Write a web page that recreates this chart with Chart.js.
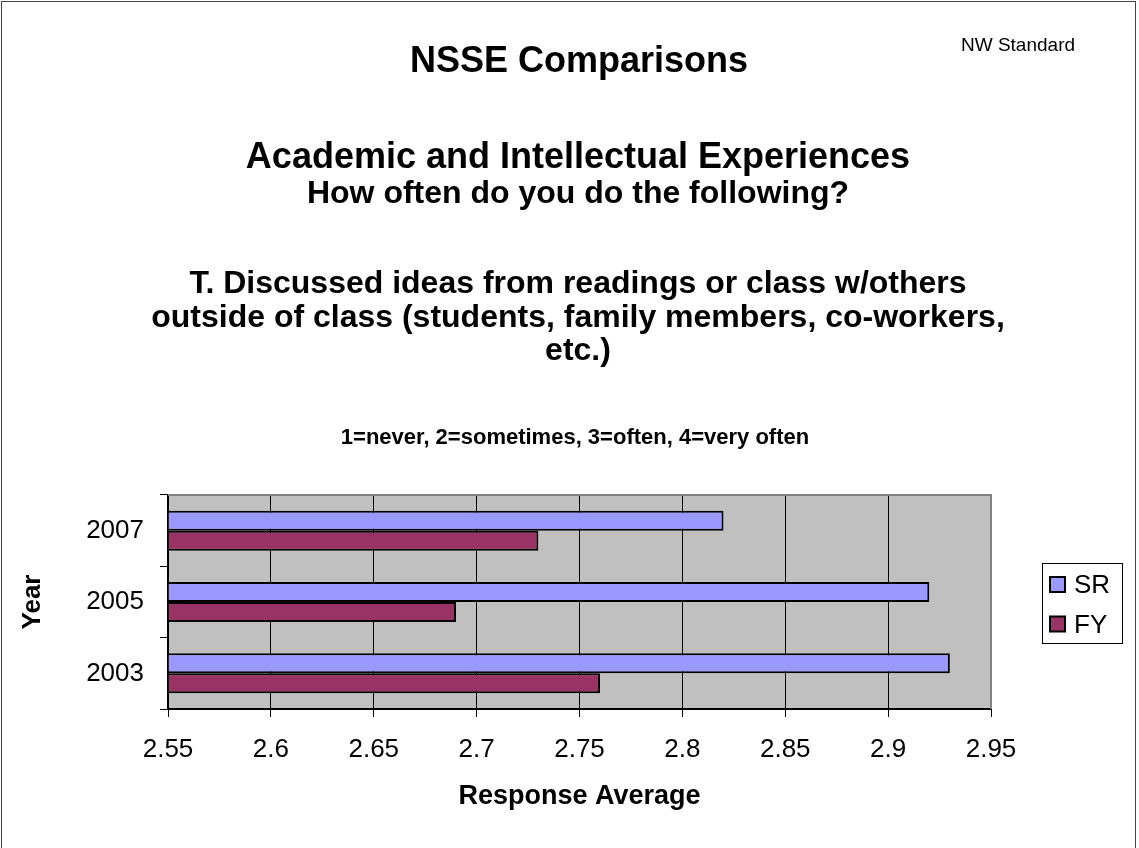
<!DOCTYPE html>
<html>
<head>
<meta charset="utf-8">
<script src="https://cdn.jsdelivr.net/npm/chart.js@4/dist/chart.umd.min.js"></script>
<style>
  html, body { margin: 0; padding: 0; background: #fff; }
  #wrap { position: relative; width: 1139px; height: 848px; overflow: hidden; font-family: "Liberation Sans", Arial, sans-serif; color: #000; }
  #frame { position: absolute; left: 1px; top: 1px; width: 1135px; height: 860px; border: 1px solid #444; box-sizing: border-box; }
  canvas { position: absolute; left: 0; top: 0; }
  .t { position: absolute; white-space: nowrap; font-weight: bold; text-align: center; transform: translateX(-50%); line-height: 1; }
</style>
</head>
<body>
<div id="wrap">
  <div id="frame"></div>
  <canvas id="c" width="1139" height="848"></canvas>
  <div class="t" style="left:579px; top:42px; font-size:36px;">NSSE Comparisons</div>
  <div class="t" style="left:1018px; top:35px; font-size:19px; font-weight:normal;">NW Standard</div>
  <div class="t" style="left:578px; top:138px; font-size:36px;">Academic and Intellectual Experiences</div>
  <div class="t" style="left:578px; top:176px; font-size:32px;">How often do you do the following?</div>
  <div class="t" style="left:578px; top:266px; font-size:32px;">T. Discussed ideas from readings or class w/others</div>
  <div class="t" style="left:578px; top:300px; font-size:32px;">outside of class (students, family members, co-workers,</div>
  <div class="t" style="left:578px; top:333px; font-size:32px;">etc.)</div>
  <div class="t" style="left:575px; top:426px; font-size:22px;">1=never, 2=sometimes, 3=often, 4=very often</div>
</div>
<script>
const categories = ['2007', '2005', '2003'];
const seriesSR = [2.82, 2.92, 2.93];
const seriesFY = [2.73, 2.69, 2.76];
const seriesNames = ['SR', 'FY'];
const xTicksMin = 2.55;
const xTicksMax = 2.95;
const xTickStep = 0.05;

const FONT = '"Liberation Sans", Arial, sans-serif';
const colors = ['#9999FF', '#993366'];

const plotBg = {
  id: 'plotBg',
  beforeDraw(chart) {
    const {ctx, chartArea: a} = chart;
    ctx.save();
    ctx.fillStyle = '#C0C0C0';
    ctx.fillRect(a.left, a.top, a.right - a.left, a.bottom - a.top);
    ctx.restore();
  },
  afterDraw(chart) {
    const {ctx, chartArea: a} = chart;
    ctx.save();
    ctx.strokeStyle = '#808080';
    ctx.lineWidth = 2;
    ctx.beginPath();
    ctx.moveTo(a.left, a.top);
    ctx.lineTo(a.right, a.top);
    ctx.lineTo(a.right, a.bottom);
    ctx.stroke();
    const lx = 1042, ly = 563, lw = 80, lh = 80;
    ctx.fillStyle = '#fff';
    ctx.fillRect(lx, ly, lw, lh);
    ctx.strokeStyle = '#000';
    ctx.lineWidth = 1;
    ctx.strokeRect(lx + 0.5, ly + 0.5, lw, lh);
    ctx.font = '26px ' + FONT;
    ctx.textBaseline = 'middle';
    ctx.textAlign = 'left';
    chart.data.datasets.forEach((ds, i) => {
      const cy = ly + 22 + i * 39.5;
      ctx.fillStyle = ds.backgroundColor;
      ctx.fillRect(lx + 8, cy - 8, 15, 15);
      ctx.strokeStyle = '#000';
      ctx.lineWidth = 2;
      ctx.strokeRect(lx + 8, cy - 8, 15, 15);
      ctx.fillStyle = '#000';
      ctx.fillText(ds.label, lx + 32, cy + 1);
    });
    ctx.restore();
  }
};

new Chart(document.getElementById('c'), {
  type: 'bar',
  data: {
    labels: categories,
    datasets: [
      { label: seriesNames[0], data: seriesSR, backgroundColor: colors[0], borderColor: '#000', borderWidth: 2 },
      { label: seriesNames[1], data: seriesFY, backgroundColor: colors[1], borderColor: '#000', borderWidth: 2 }
    ]
  },
  options: {
    indexAxis: 'y',
    responsive: false,
    animation: false,
    layout: { padding: { top: 495, right: 148, bottom: 35, left: 0 } },
    datasets: { bar: { categoryPercentage: 0.56, barPercentage: 1.0, base: xTicksMin } },
    plugins: {
      legend: { display: false },
      tooltip: { enabled: false }
    },
    scales: {
      x: {
        min: xTicksMin,
        max: xTicksMax,
        ticks: {
          stepSize: xTickStep,
          color: '#000',
          font: { family: FONT, size: 26 },
          padding: 17,
          callback: v => String(Number(Number(v).toFixed(2)))
        },
        grid: { color: '#000', lineWidth: 1, tickLength: 8, drawTicks: true },
        border: { color: '#000', width: 2 },
        title: { display: true, text: 'Response Average', color: '#000', font: { family: FONT, size: 27, weight: 'bold' }, padding: { top: 4, bottom: 0 } },
        afterFit(s) { s.height = 104; }
      },
      y: {
        ticks: { color: '#000', font: { family: FONT, size: 26 }, padding: 16 },
        grid: { offset: true, drawOnChartArea: false, color: '#000', tickLength: 8 },
        border: { color: '#000', width: 2 },
        title: { display: true, text: 'Year', color: '#000', font: { family: FONT, size: 26, weight: 'bold' }, padding: { top: 17, bottom: 4 } },
        afterFit(s) { s.width = 168; }
      }
    }
  },
  plugins: [plotBg]
});
</script>
</body>
</html>
